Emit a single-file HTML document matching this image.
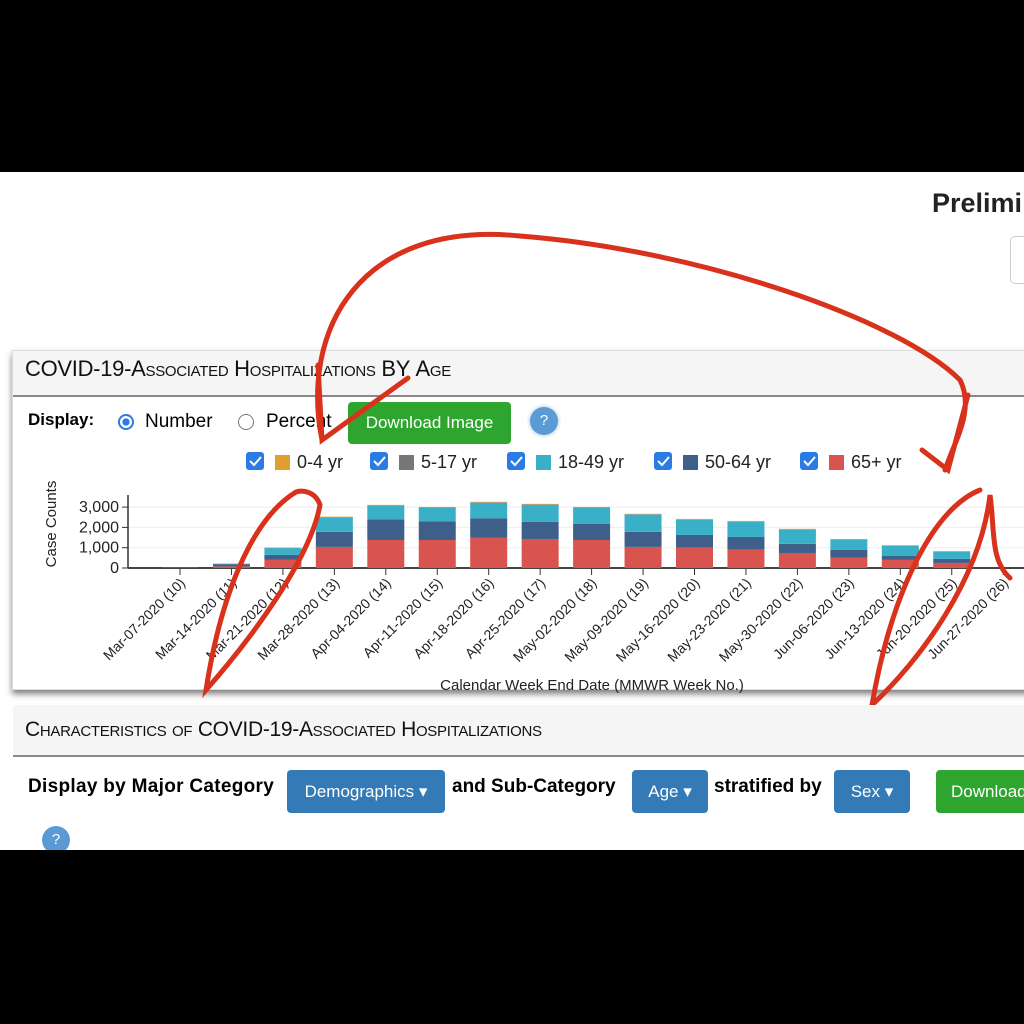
<!DOCTYPE html>
<html><head><meta charset="utf-8"><style>
body{margin:0;width:1024px;height:1024px;background:#000;position:relative;overflow:hidden;font-family:"Liberation Sans",sans-serif}
.abs{position:absolute}
.sc{font-variant:small-caps}
.btn{position:absolute;color:#fff;border-radius:4px;font-size:17px;text-align:center}
</style></head><body>
<div class="abs" style="left:0;top:172px;width:1024px;height:678px;background:#fff"></div>
<div class="abs" style="left:932px;top:188px;font-size:27px;font-weight:bold;color:#222">Prelimi</div>
<div class="abs" style="left:1010px;top:236px;width:30px;height:46px;border:1px solid #ccc;border-radius:5px"></div>

<div class="abs" style="left:12px;top:350px;width:1030px;height:338px;background:#fff;box-shadow:0 4px 6px rgba(0,0,0,.5);border:1px solid #ddd"></div>
<div class="abs" style="left:13px;top:351px;width:1030px;height:44px;background:#f5f5f5;border-bottom:2px solid #888"></div>
<div class="abs" style="left:25px;top:356px;font-size:22px;color:#111;letter-spacing:-0.3px">COVID-19-<span class="sc">Associated Hospitalizations</span> BY <span class="sc">Age</span></div>
<div class="abs" style="left:28px;top:410px;font-size:17px;font-weight:bold">Display:</div>
<div class="abs" style="left:118px;top:414px;width:12px;height:12px;border:2px solid #2b7be4;border-radius:50%;background:radial-gradient(#2b7be4 40%,#fff 45%)"></div>
<div class="abs" style="left:145px;top:411px;font-size:19px">Number</div>
<div class="abs" style="left:238px;top:414px;width:14px;height:14px;border:1px solid #777;border-radius:50%"></div>
<div class="abs" style="left:266px;top:411px;font-size:19px">Percent</div>
<div class="btn" style="left:348px;top:402px;width:163px;height:42px;line-height:42px;background:#2ea52e">Download Image</div>
<div class="abs" style="left:530px;top:407px;width:28px;height:28px;border-radius:50%;background:#5b9bd5;color:#fff;text-align:center;line-height:28px;font-size:15px;box-shadow:0 0 4px #9bc">?</div>

<svg class="abs" style="left:0;top:0" width="1024" height="1024" id="chart"></svg>

<div class="abs" style="left:13px;top:705px;width:1030px;height:50px;background:#f5f5f5;border-bottom:2px solid #888"></div>
<div class="abs" style="left:25px;top:718px;font-size:21px;color:#111;letter-spacing:-0.3px"><span class="sc">Characteristics of</span> COVID-19-<span class="sc">Associated Hospitalizations</span></div>
<div class="abs" style="left:28px;top:776px;font-size:19px;font-weight:bold;letter-spacing:0.3px">Display by Major Category</div>
<div class="btn" style="left:287px;top:770px;width:158px;height:43px;line-height:43px;background:#337ab7">Demographics ▾</div>
<div class="abs" style="left:452px;top:776px;font-size:19px;font-weight:bold">and Sub-Category</div>
<div class="btn" style="left:632px;top:770px;width:76px;height:43px;line-height:43px;background:#337ab7">Age ▾</div>
<div class="abs" style="left:714px;top:776px;font-size:19px;font-weight:bold">stratified by</div>
<div class="btn" style="left:834px;top:770px;width:76px;height:43px;line-height:43px;background:#337ab7">Sex ▾</div>
<div class="btn" style="left:936px;top:770px;width:110px;height:43px;line-height:43px;background:#2ea52e;text-align:left;padding-left:15px">Download</div>
<div class="abs" style="left:42px;top:826px;width:28px;height:28px;border-radius:50%;background:#5b9bd5;color:#fff;text-align:center;line-height:28px;font-size:15px">?</div>
<div class="abs" style="left:0;top:850px;width:1024px;height:174px;background:#000"></div>

<script>
const weeks=["Mar-07-2020 (10)","Mar-14-2020 (11)","Mar-21-2020 (12)","Mar-28-2020 (13)","Apr-04-2020 (14)","Apr-11-2020 (15)","Apr-18-2020 (16)","Apr-25-2020 (17)","May-02-2020 (18)","May-09-2020 (19)","May-16-2020 (20)","May-23-2020 (21)","May-30-2020 (22)","Jun-06-2020 (23)","Jun-13-2020 (24)","Jun-20-2020 (25)","Jun-27-2020 (26)"];
const age65=[10,80,400,1040,1380,1380,1500,1430,1380,1040,1000,900,740,500,400,250,0];
const age50=[8,110,250,740,1020,920,950,840,790,740,630,630,450,390,190,200,0];
const age18=[8,20,330,700,660,660,760,840,790,850,750,750,700,510,500,350,0];
const age5=[2,5,15,25,25,25,25,25,25,20,20,20,20,15,15,15,0];
const age0=[2,5,15,25,25,25,25,25,25,20,20,20,20,15,15,15,0];
const yTicks=[0,1000,2000,3000];
const yTickLabels=["0","1,000","2,000","3,000"];
const seriesNames=["0-4 yr","5-17 yr","18-49 yr","50-64 yr","65+ yr"];
const seriesColors=["#e0a030","#777","#3aafc8","#3e5f8a","#d9534f"];

const NS="http://www.w3.org/2000/svg";
const svg=document.getElementById('chart');
function mk(t,a,p){const e=document.createElementNS(NS,t);for(const k in a)e.setAttribute(k,a[k]);(p||svg).appendChild(e);return e;}
const y=v=>568-v*0.0203;
const x=i=>180+i*51.45;
const bw=37;
yTicks.forEach((v,i)=>{
  const g=mk('line',{x1:128,x2:1024,y1:y(v),y2:y(v),stroke:'#eee'});
  
  const t=mk('line',{x1:122,x2:128,y1:y(v),y2:y(v),stroke:'#333'});
  
  const l=mk('text',{x:119,y:y(v)+5,'text-anchor':'end','font-size':16,fill:'#222'});l.textContent=yTickLabels[i];
  
});
const ax=mk('line',{x1:128,x2:128,y1:495,y2:568,stroke:'#333','stroke-width':1.5});

const xa=mk('line',{x1:128,x2:1024,y1:568,y2:568,stroke:'#444','stroke-width':2});

const yt=mk('text',{x:0,y:0,'font-size':15,fill:'#222','text-anchor':'middle',transform:'translate(56,524) rotate(-90)'});yt.textContent='Case Counts';

const stack=[age65,age50,age18,age5,age0];const cols=[seriesColors[4],seriesColors[3],seriesColors[2],seriesColors[1],seriesColors[0]];
const names=['bar-65plus','bar-50-64','bar-18-49','bar-5-17','bar-0-4'];
weeks.forEach((w,i)=>{
  let base=0;
  stack.forEach((s,k)=>{
    const v=s[i];if(v<=0)return;
    const r=mk('rect',{x:x(i)-bw/2,y:y(base+v),width:bw,height:y(base)-y(base+v),fill:cols[k]});
    
    base+=v;
  });
  const t=mk('line',{x1:x(i),x2:x(i),y1:568,y2:575,stroke:'#333'});
  
  const l=mk('text',{'font-size':14,fill:'#222','text-anchor':'end',transform:`translate(${x(i)+6},${584}) rotate(-45)`});l.textContent=w;
  
});
const xt=mk('text',{x:592,y:690,'font-size':15,fill:'#222','text-anchor':'middle'});xt.textContent='Calendar Week End Date (MMWR Week No.)';

const lx=[246,370,507,654,800];
seriesNames.forEach((n,i)=>{
  const cb=mk('rect',{x:lx[i],y:452,width:18,height:18,rx:3,fill:'#2b7be4'});
  
  const ck=mk('path',{d:`M${lx[i]+4} ${461} l4 4 l7 -8`,stroke:'#fff','stroke-width':2,fill:'none'});
  const sw=mk('rect',{x:lx[i]+29,y:455,width:15,height:15,fill:seriesColors[i]});
  
  const t=mk('text',{x:lx[i]+51,y:468,'font-size':18,fill:'#222'});t.textContent=n;
  
});
const ann=["M322,440 C300,330 360,220 520,236 C700,250 900,320 960,380 C975,410 955,440 945,470 M318,365 L322,440 L408,378 M922,450 L948,470 L968,395",
"M296,492 C250,520 220,600 206,690 C250,640 310,560 320,505 C315,490 300,490 296,492",
"M980,490 C930,510 890,600 872,705 C920,660 980,580 990,495 C995,530 990,560 1010,578"];
ann.forEach(d=>{const p=mk('path',{d:d,stroke:'#d8321c','stroke-width':5,fill:'none','stroke-linecap':'round'});
});
</script>
</body></html>
